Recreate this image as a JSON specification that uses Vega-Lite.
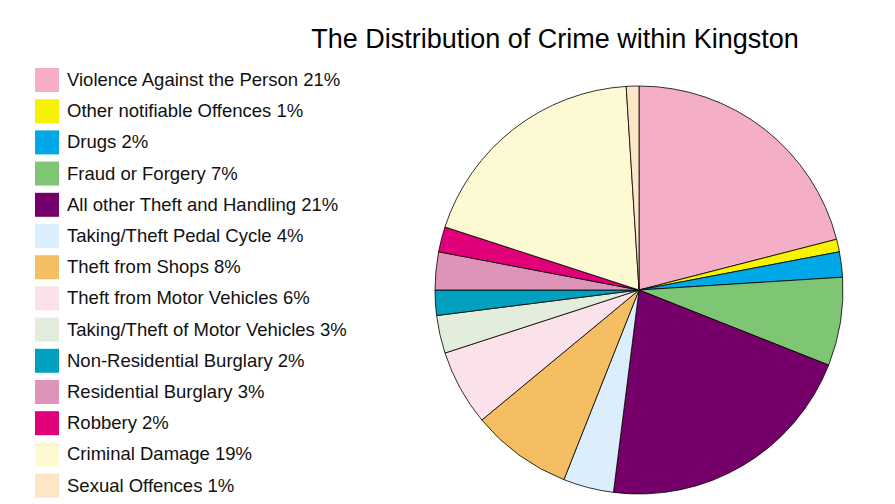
{
  "$schema": "https://vega.github.io/schema/vega-lite/v6.json",
  "width": 408,
  "height": 408,
  "autosize": {"type": "none"},
  "padding": {"left": 435, "top": 86, "right": 52, "bottom": 10},
  "background": "white",
  "title": {
    "text": "The Distribution of Crime within Kingston",
    "font": "Liberation Sans",
    "fontSize": 27,
    "fontWeight": "normal",
    "color": "#000000",
    "anchor": "middle",
    "baseline": "alphabetic",
    "offset": -7,
    "dx": -84
  },
  "config": {"view": {"stroke": null}},
  "data": {
    "values": [
      {"label": "Violence Against the Person 21%", "pct": 21, "ord": 1},
      {"label": "Other notifiable Offences 1%", "pct": 1, "ord": 2},
      {"label": "Drugs 2%", "pct": 2, "ord": 3},
      {"label": "Fraud or Forgery 7%", "pct": 7, "ord": 4},
      {"label": "All other Theft and Handling 21%", "pct": 21, "ord": 5},
      {"label": "Taking/Theft Pedal Cycle 4%", "pct": 4, "ord": 6},
      {"label": "Theft from Shops 8%", "pct": 8, "ord": 7},
      {"label": "Theft from Motor Vehicles 6%", "pct": 6, "ord": 8},
      {"label": "Taking/Theft of Motor Vehicles 3%", "pct": 3, "ord": 9},
      {"label": "Non-Residential Burglary 2%", "pct": 2, "ord": 10},
      {"label": "Residential Burglary 3%", "pct": 3, "ord": 11},
      {"label": "Robbery 2%", "pct": 2, "ord": 12},
      {"label": "Criminal Damage 19%", "pct": 19, "ord": 13},
      {"label": "Sexual Offences 1%", "pct": 1, "ord": 14}
    ]
  },
  "mark": {"type": "arc", "stroke": "#000000", "strokeWidth": 0.8, "outerRadius": 204},
  "encoding": {
    "theta": {"field": "pct", "type": "quantitative", "stack": true},
    "order": {"field": "ord", "type": "quantitative"},
    "color": {
      "field": "label",
      "type": "nominal",
      "scale": {
        "domain": [
          "Violence Against the Person 21%",
          "Other notifiable Offences 1%",
          "Drugs 2%",
          "Fraud or Forgery 7%",
          "All other Theft and Handling 21%",
          "Taking/Theft Pedal Cycle 4%",
          "Theft from Shops 8%",
          "Theft from Motor Vehicles 6%",
          "Taking/Theft of Motor Vehicles 3%",
          "Non-Residential Burglary 2%",
          "Residential Burglary 3%",
          "Robbery 2%",
          "Criminal Damage 19%",
          "Sexual Offences 1%"
        ],
        "range": [
          "#F5AEC8", "#F7F200", "#00A8E8", "#7EC673", "#76006A", "#DCEEFB", "#F5BE62",
          "#FBE1EA", "#E2EDDB", "#00A0BE", "#DE94B8", "#E2007A", "#FDFAD3", "#FDE6C6"
        ]
      },
      "legend": {
        "title": null,
        "orient": "none",
        "legendX": -400,
        "legendY": -18,
        "padding": 0,
        "symbolType": "square",
        "symbolSize": 576,
        "symbolStrokeWidth": 0,
        "symbolOpacity": 1,
        "rowPadding": 7.2,
        "labelOffset": 8,
        "labelFont": "Liberation Sans",
        "labelFontSize": 18.5,
        "labelColor": "#111111",
        "labelLimit": 400
      }
    }
  }
}
